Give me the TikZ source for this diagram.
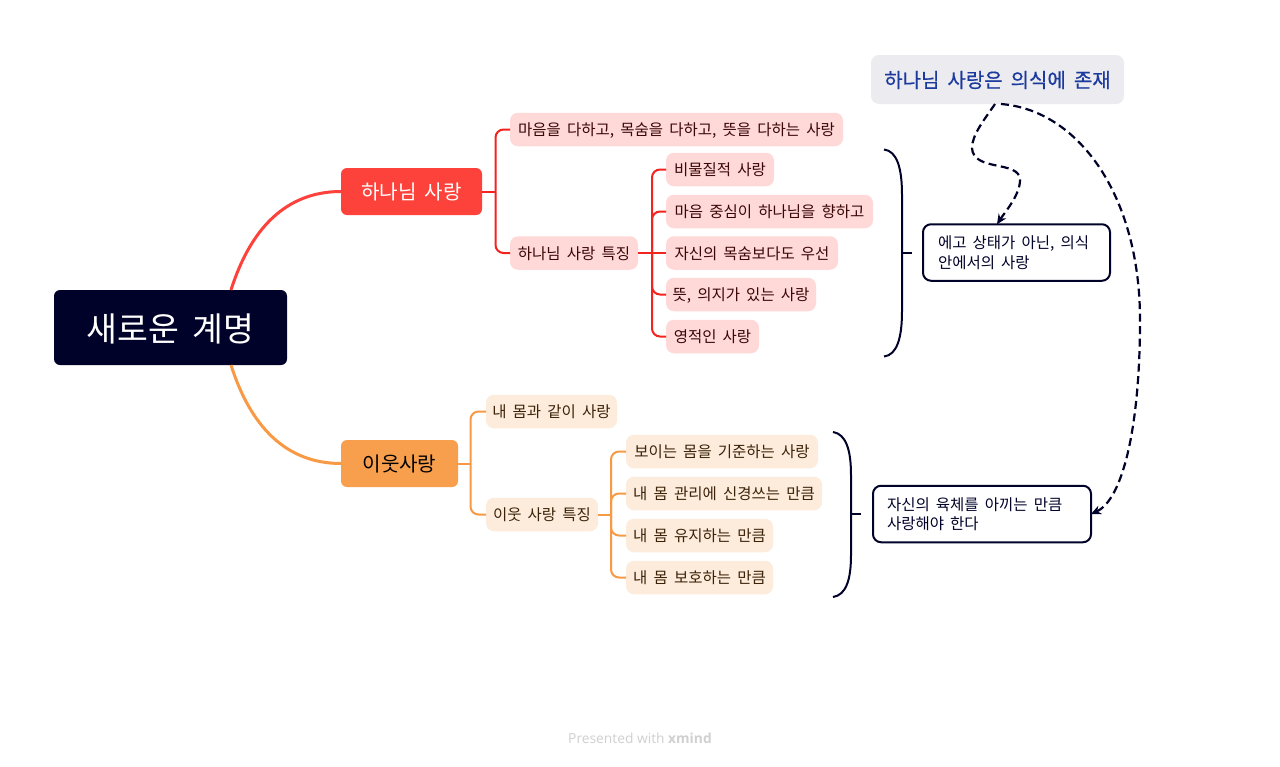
\documentclass[tikz,border=0pt]{standalone}
\usepackage{fontspec}
\setmainfont{Noto Sans CJK KR}
\newfontfamily\latinf{Open Sans}
\newfontfamily\medf[FakeBold=0.5]{Noto Sans CJK KR}
\usetikzlibrary{arrows.meta}
\definecolor{ink}{HTML}{000229}
\definecolor{redm}{HTML}{FC423A}
\definecolor{redl}{HTML}{F3231F}
\definecolor{redf}{HTML}{FFD9D7}
\definecolor{redt}{HTML}{3A0606}
\definecolor{orm}{HTML}{F89F4D}
\definecolor{orl}{HTML}{F89A45}
\definecolor{orf}{HTML}{FDECDC}
\definecolor{ort}{HTML}{3B2208}
\definecolor{floatf}{HTML}{ECEBEF}
\definecolor{floatt}{HTML}{1B3A9E}
\definecolor{foot}{HTML}{D0D0D0}
\newcommand{\kfont}[1]{\fontsize{#1}{#1}\selectfont\spaceskip=0.4em\relax}
\newcommand{\cfont}{\fontsize{15.5}{19.5}\selectfont}
\newcommand{\wsp}{\spaceskip=0.4em\relax}
\tikzset{
  basebox/.style={rectangle,inner sep=0pt,outer sep=0pt,align=center},
  rootbox/.style={basebox,fill=ink,text=white,rounded corners=6pt,minimum width=233pt,minimum height=75pt,text height=30.8pt,text depth=2.7pt,font=\kfont{33.5}},
  mainbox/.style={basebox,rounded corners=6pt,minimum height=47pt,text height=17.7pt,text depth=1.6pt,font=\kfont{20.1}},
  redleaf/.style={basebox,fill=redf,text=redt,rounded corners=8pt,minimum height=33.5pt,text height=13.5pt,text depth=1.2pt,font=\kfont{15.5}},
  orleaf/.style={basebox,fill=orf,text=ort,rounded corners=8pt,minimum height=33.5pt,text height=13.5pt,text depth=1.2pt,font=\kfont{15.5}},
  callout/.style={rectangle,inner sep=0pt,outer sep=0pt,draw=ink,line width=2pt,fill=white,text=ink,rounded corners=8pt,minimum height=56.5pt,align=left,font=\cfont},
  floatbox/.style={basebox,fill=floatf,text=floatt,rounded corners=8pt,minimum width=253pt,minimum height=49pt,text height=17.6pt,text depth=1.6pt,font=\medf\kfont{20}},
  rootred/.style={draw=redm,line width=3pt},
  rootor/.style={draw=orl,line width=3pt},
  redline/.style={draw=redl,line width=2pt,rounded corners=8pt},
  orline/.style={draw=orl,line width=2pt,rounded corners=8pt},
  bracel/.style={draw=ink,line width=2pt},
  rel/.style={draw=ink,line width=2.2pt,dash pattern=on 8pt off 4.5pt,-{Stealth[length=10pt,width=9pt]}},
  footer/.style={inner sep=0pt,text=foot,font=\latinf\fontsize{13.8}{16}\selectfont}
}
\begin{document}
\begin{tikzpicture}[x=1pt,y=-1pt]
\useasboundingbox (0,0) rectangle (1280,766);
\fill[white] (0,0) rectangle (1280,766);

\node[rootbox] (root) at (170.5,327.5) {새로운 계명};
\node[mainbox,fill=redm,text=white,minimum width=141pt] (god) at (411.5,191.5) {하나님 사랑};
\node[mainbox,fill=orm,text=black,minimum width=117pt] (near) at (399.5,463.5) {이웃사랑};

\node[redleaf,minimum width=333pt] (r1) at (676.5,129.5) {마음을 다하고, 목숨을 다하고, 뜻을 다하는 사랑};
\node[redleaf,minimum width=128pt] (r2) at (574,253) {하나님 사랑 특징};
\node[redleaf,minimum width=108pt] (ra) at (720,169.5) {비물질적 사랑};
\node[redleaf,minimum width=207pt] (rb) at (769.5,211.5) {마음 중심이 하나님을 향하고};
\node[redleaf,minimum width=172pt] (rc) at (752,253) {자신의 목숨보다도 우선};
\node[redleaf,minimum width=150pt] (rd) at (741,294.5) {뜻, 의지가 있는 사랑};
\node[redleaf,minimum width=93pt] (re) at (712.5,336.5) {영적인 사랑};

\node[orleaf,minimum width=131pt] (o1) at (551.5,411.5) {내 몸과 같이 사랑};
\node[orleaf,minimum width=112pt] (o2) at (542,514.5) {이웃 사랑 특징};
\node[orleaf,minimum width=192pt] (oa) at (722,451.5) {보이는 몸을 기준하는 사랑};
\node[orleaf,minimum width=196pt] (ob) at (724,493.5) {내 몸 관리에 신경쓰는 만큼};
\node[orleaf,minimum width=147pt] (oc) at (699.5,535.5) {내 몸 유지하는 만큼};
\node[orleaf,minimum width=147pt] (od) at (699.5,577.5) {내 몸 보호하는 만큼};

\node[floatbox] (fl) at (997.5,79.5) {하나님 사랑은 의식에 존재};
\node[callout,minimum width=187pt,text width=157pt] (c1) at (1016.5,252.5) {\wsp 에고 상태가 아닌, 의식\\\wsp 안에서의 사랑};
\node[callout,minimum width=218pt,text width=190pt] (c2) at (982,514) {\wsp 자신의 육체를 아끼는 만큼\\\wsp 사랑해야 한다};

\node[footer,anchor=west] (ft) at (568,738) {Presented with \textbf{xmind}};

% main branches
\draw[rootred] ([xshift=60.5pt]root.north) .. controls +(19,-60) and +(-56,0) .. (god.west);
\draw[rootor] ([xshift=60.5pt]root.south) .. controls +(19,60) and +(-56,0) .. (near.west);

% red tree
\coordinate (busa) at ([xshift=13.5pt]god.east);
\coordinate (busb) at ([xshift=14pt]r2.east);
\draw[redline] (god.east) -- (busa);
\draw[redline] (busa) |- (r1.west);
\draw[redline] (busa) |- (r2.west);
\draw[redline] (busb) |- (ra.west);
\draw[redline] (busb) |- (rb.west);
\draw[redline] (r2.east) -- (rc.west);
\draw[redline] (busb) |- (rd.west);
\draw[redline] (busb) |- (re.west);

% orange tree
\coordinate (busc) at ([xshift=12.5pt]near.east);
\coordinate (busd) at ([xshift=13pt]o2.east);
\draw[orline] (near.east) -- (busc);
\draw[orline] (busc) |- (o1.west);
\draw[orline] (busc) |- (o2.west);
\draw[orline] (o2.east) -- (busd);
\draw[orline] (busd) |- (oa.west);
\draw[orline] (busd) |- (ob.west);
\draw[orline] (busd) |- (oc.west);
\draw[orline] (busd) |- (od.west);

% braces
\coordinate (b1t) at (884,149.5);
\coordinate (b1b) at (884,356.5);
\coordinate (b1m) at (902,253);
\coordinate (b2t) at (833,432);
\coordinate (b2b) at (833,597);
\coordinate (b2m) at (851,514);
\draw[bracel] (b1t) .. controls (897,151) and (902,168) .. (902,195) -- (902,311) .. controls (902,338) and (897,355) .. (b1b);
\draw[bracel] (b1m) -- ++(10,0);
\draw[bracel] (b2t) .. controls (846,434) and (851,450) .. (851,475) -- (851,555) .. controls (851,580) and (846,595) .. (b2b);
\draw[bracel] (b2m) -- ++(10,0);

% relationships
\draw[rel] ([xshift=-2.5pt]fl.south) .. controls (984,120) and (972,135) .. (972,148)
  .. controls (973,172) and (1020,160) .. (1020,180)
  .. controls (1020,195) and (1005,212) .. ([xshift=-19.5pt]c1.north);
\draw[rel] ([xshift=3.5pt]fl.south) .. controls (1078,110) and (1140,195) .. (1140,320)
  .. controls (1140,430) and (1122,500) .. (c2.east);
\end{tikzpicture}
\end{document}
